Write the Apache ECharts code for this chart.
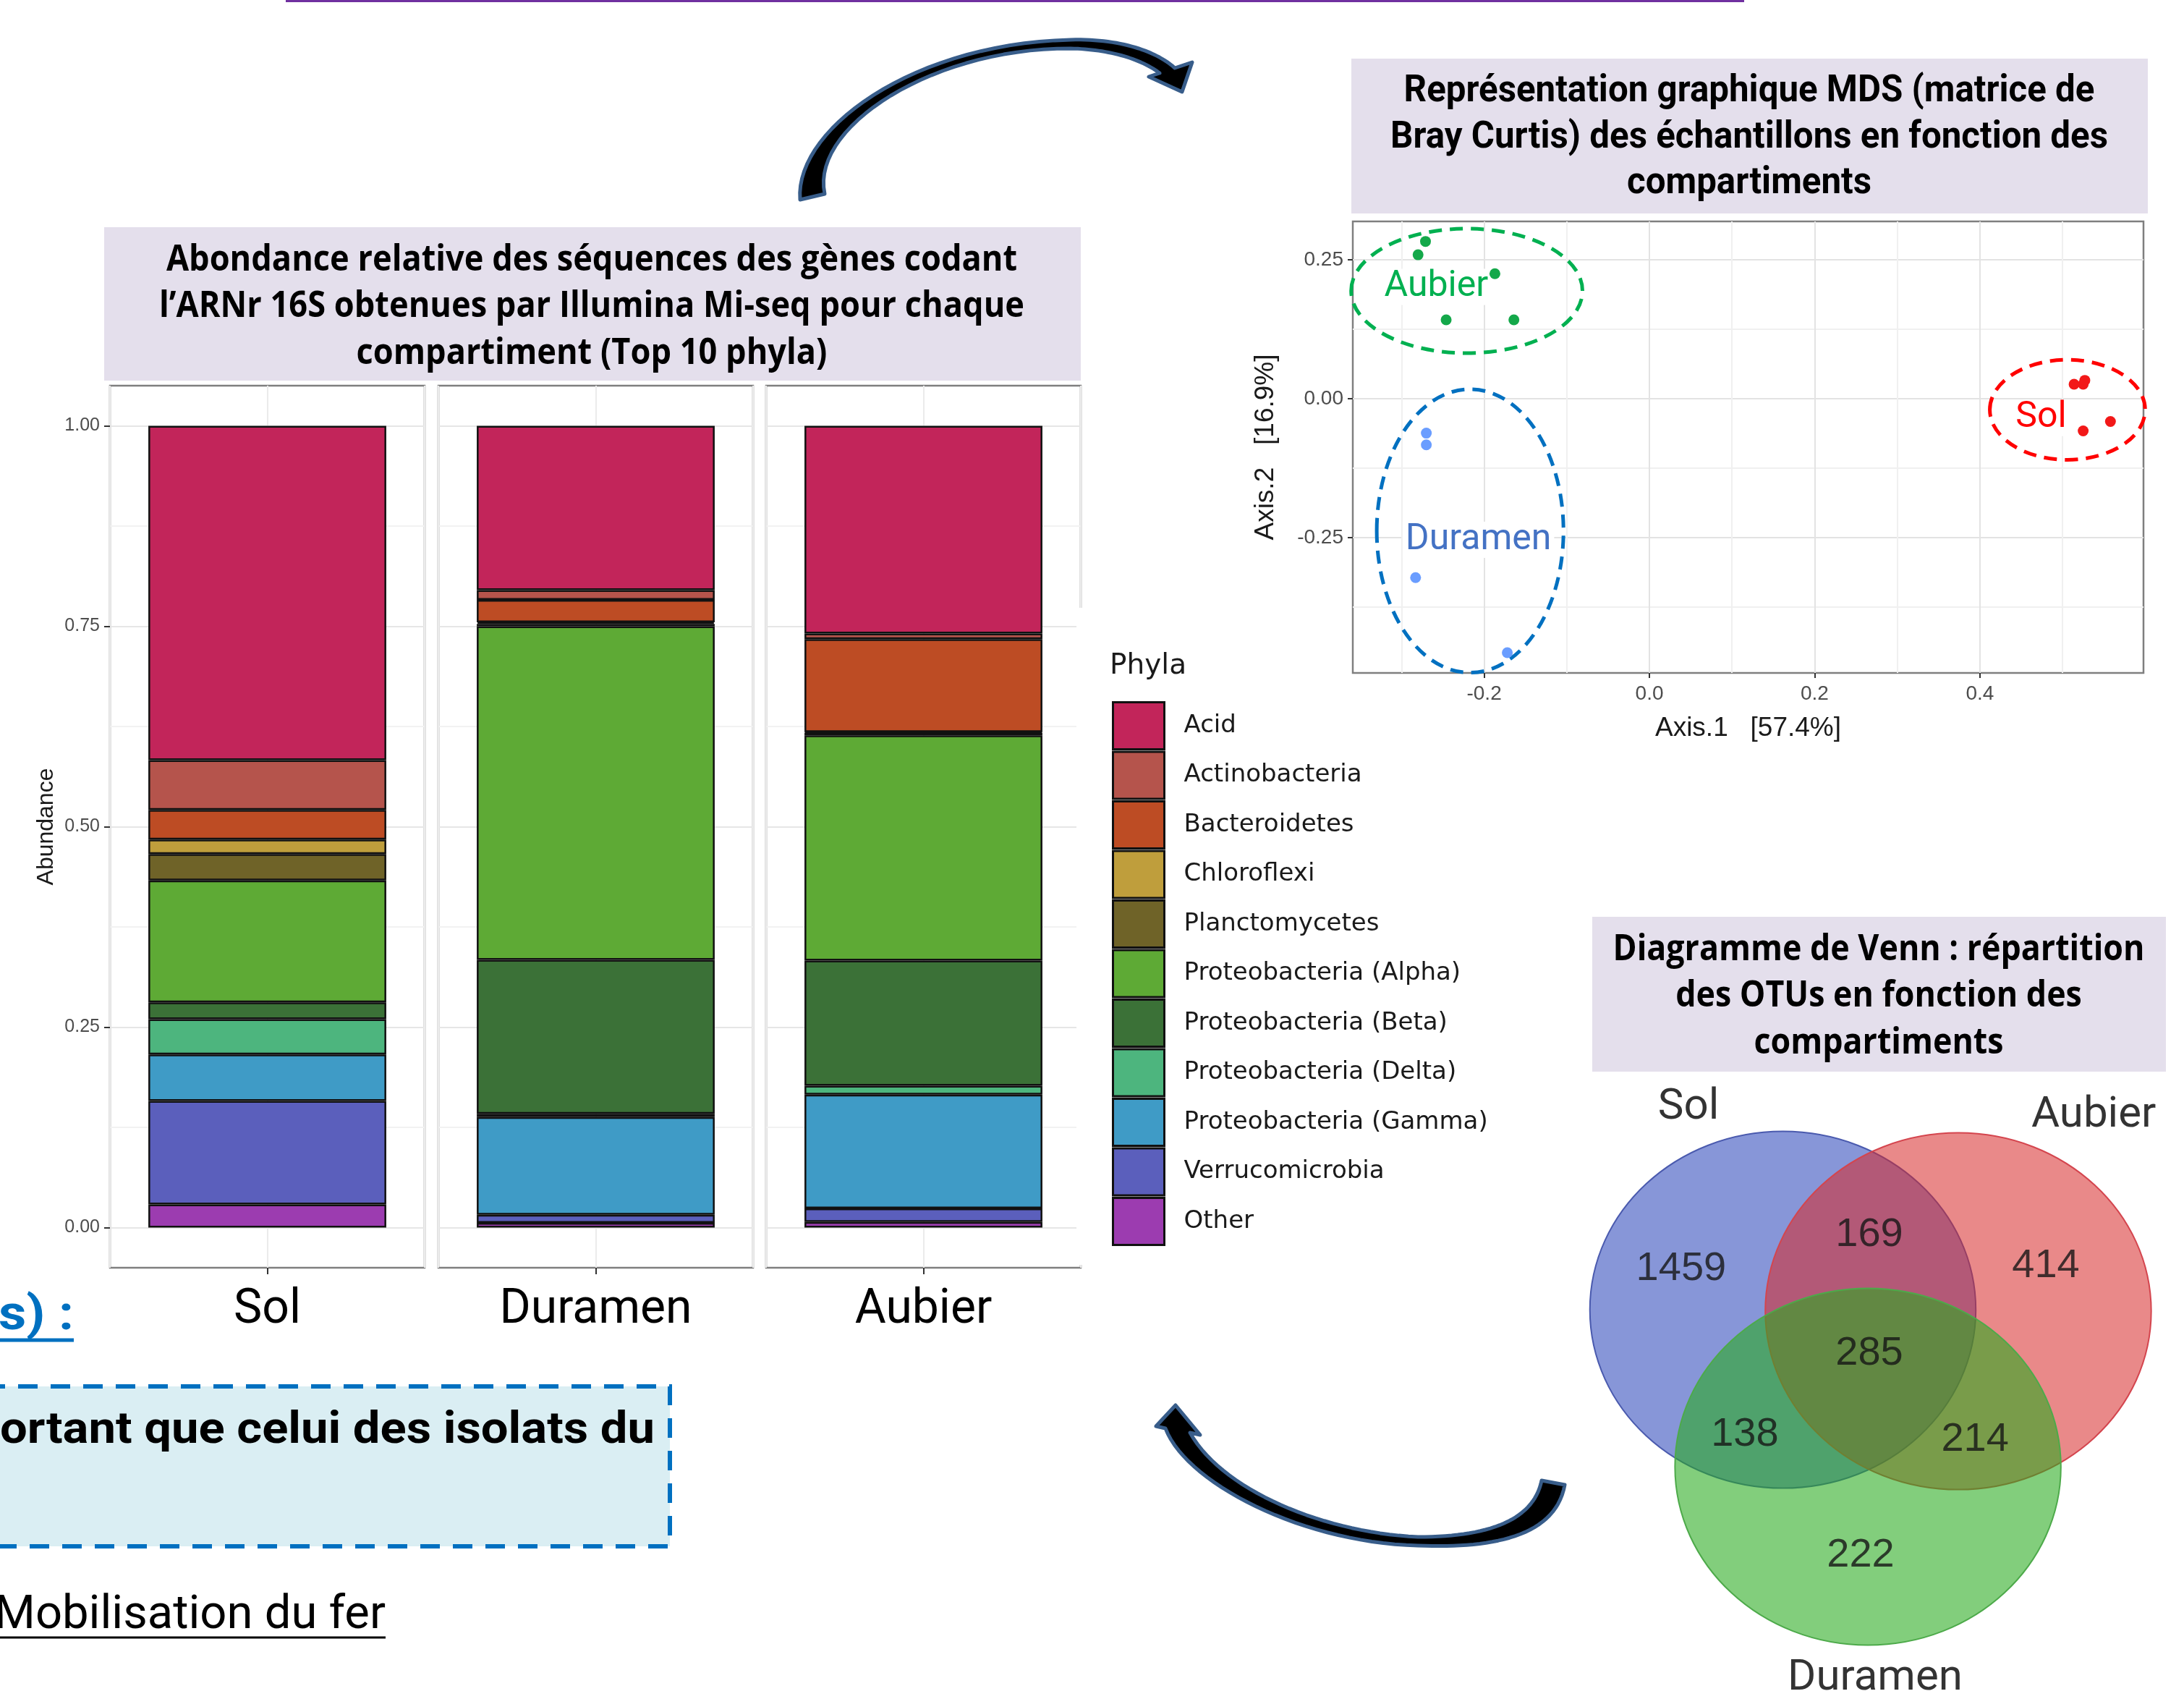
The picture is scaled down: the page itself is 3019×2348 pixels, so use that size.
<!DOCTYPE html>
<html>
<head>
<meta charset="utf-8">
<title>Phyla, MDS et Venn</title>
<script src="https://cdn.jsdelivr.net/npm/echarts@6/dist/echarts.min.js"></script>
<style>
html, body { margin: 0; padding: 0; background: #fff; }
#main { width: 3019px; height: 2348px; }
</style>
</head>
<body>
<div id="main"></div>
<script>
// stacked bars - relative abundance (top 10 phyla)
var compartments = ['Sol', 'Duramen', 'Aubier'];
var phyla = ['Acid', 'Actinobacteria', 'Bacteroidetes', 'Chloroflexi', 'Planctomycetes',
  'Proteobacteria (Alpha)', 'Proteobacteria (Beta)', 'Proteobacteria (Delta)',
  'Proteobacteria (Gamma)', 'Verrucomicrobia', 'Other'];
var solAbund     = [0.417, 0.062, 0.037, 0.018, 0.033, 0.152, 0.021, 0.044, 0.058, 0.129, 0.029];
var duramenAbund = [0.205, 0.012, 0.028, 0.002, 0.003, 0.416, 0.192, 0.004, 0.122, 0.010, 0.006];
var aubierAbund  = [0.259, 0.007, 0.116, 0.001, 0.003, 0.281, 0.156, 0.011, 0.142, 0.017, 0.007];
var abundTicks = [0, 0.25, 0.5, 0.75, 1];
var abundGrid = [0, 0.125, 0.25, 0.375, 0.5, 0.625, 0.75, 0.875, 1];

// MDS (Bray Curtis)
var mdsGroups = ['Aubier', 'Duramen', 'Sol'];
var aubierPts  = [[-0.271, 0.283], [-0.280, 0.259], [-0.187, 0.225], [-0.246, 0.142], [-0.164, 0.142]];
var duramenPts = [[-0.270, -0.062], [-0.270, -0.083], [-0.283, -0.322], [-0.172, -0.457]];
var solPts     = [[0.514, 0.026], [0.525, 0.026], [0.527, 0.033], [0.525, -0.058], [0.558, -0.041]];
var axis1Ticks = [-0.2, 0, 0.2, 0.4];
var axis1Grid = [-0.3, -0.2, -0.1, 0, 0.1, 0.2, 0.3, 0.4, 0.5];
var axis2Ticks = [-0.25, 0, 0.25];
var axis2Grid = [-0.375, -0.25, -0.125, 0, 0.125, 0.25];

// Venn - OTUs
var vennSets = ['Sol', 'Aubier', 'Duramen'];
var vennRegions = ['Sol', 'Aubier', 'Duramen', 'Sol ∩ Aubier', 'Sol ∩ Duramen', 'Aubier ∩ Duramen', 'Sol ∩ Aubier ∩ Duramen'];
var vennCounts = [1459, 414, 222, 169, 138, 214, 285];

// ---------- layout / styles ----------
var phylaColors = ['#C2255A', '#B5544C', '#BD4C24', '#BF9E3C', '#6F6328', '#5EAA35',
  '#3B7137', '#4DB57E', '#3F9BC6', '#5B5FBC', '#9C3CB0'];
var panelLeft = [152, 606, 1059], panelTop = 533, panelW = 435, panelH = 1219;
var mdsPointColors = ['#14A84A', '#6A9DFF', '#F21818'];
var mdsRingColors = ['#00B050', '#0070C0', '#FF0000'];
var mdsLabelColors = ['#00B050', '#4472C4', '#FF0000'];
// ring centre x,y, radius x,y, label x,y (axis units)
var mdsRings = [
  [-0.221, 0.194, 0.140, 0.112, -0.258, 0.201],
  [-0.217, -0.238, 0.113, 0.255, -0.207, -0.254],
  [0.506, -0.020, 0.094, 0.090, 0.474, -0.035]
];
// venn space: one unit = one circle radius
var vennCentres = [[1.179, 1.258], [2.088, 1.266], [1.620, 2.138]];
var vennCountPos = [[0.652, 1.030], [2.542, 1.014], [1.582, 2.633], [1.627, 0.836], [0.982, 1.959], [2.175, 1.984], [1.627, 1.505]];
var vennNamePos = [[0.690, 0.125], [2.79, 0.17], [1.657, 3.327]];
var vennFill = ['rgba(55,80,190,0.6)', 'rgba(215,40,40,0.55)', 'rgba(40,170,30,0.58)'];
var vennStroke = ['#4A5AAE', '#D4454E', '#4DAA4A'];

var measureCtx = document.createElement('canvas').getContext('2d');
function textWidth(t, font) { measureCtx.font = font; return measureCtx.measureText(t).width; }
function fitScale(lines, font, width) {
  var m = 0;
  lines.forEach(function (l) { m = Math.max(m, textWidth(l, font)); });
  return width / m;
}
function titleBlock(lines, cx, ys, font, width) {
  var s = fitScale(lines, font, width);
  return lines.map(function (l, i) {
    return { type: 'text', x: cx, y: ys[i], scaleX: s, z: 10,
      style: { text: l, font: font, fill: '#000', textAlign: 'center', textVerticalAlign: 'middle' } };
  });
}
function bez(p0, p1, p2, p3, n) {
  var pts = [];
  for (var i = 0; i <= n; i++) {
    var t = i / n, u = 1 - t;
    pts.push([u*u*u*p0[0] + 3*u*u*t*p1[0] + 3*u*t*t*p2[0] + t*t*t*p3[0],
              u*u*u*p0[1] + 3*u*u*t*p1[1] + 3*u*t*t*p2[1] + t*t*t*p3[1]]);
  }
  return pts;
}
function arrow(segs) {
  var pts = [];
  segs.forEach(function (s) { pts = pts.concat(s.length === 4 ? bez(s[0], s[1], s[2], s[3], 30) : [s]); });
  return { type: 'polygon', z: 20, shape: { points: pts },
    style: { fill: '#000', stroke: '#385D8A', lineWidth: 5, lineJoin: 'round' } };
}

var chart = echarts.init(document.getElementById('main'));

var grids = [], xAxes = [], yAxes = [], series = [];
var abund = [solAbund, duramenAbund, aubierAbund];

compartments.forEach(function (comp, c) {
  grids.push({ left: panelLeft[c], top: panelTop, width: panelW, height: panelH,
    show: true, borderColor: '#7f7f7f', borderWidth: 2.5 });
  xAxes.push({ type: 'category', gridIndex: c, data: [comp], position: 'bottom',
    axisLine: { show: false, onZero: false },
    axisTick: { show: true, alignWithLabel: true, length: 9, lineStyle: { color: '#333', width: 2 } },
    axisLabel: { fontFamily: 'Roboto', fontSize: 66, color: '#000', margin: 26 },
    splitLine: { show: false } });
  yAxes.push({ type: 'value', gridIndex: c, min: -0.05, max: 1.05, position: 'left',
    axisLine: { show: false, onZero: false }, axisLabel: { show: false },
    axisTick: { show: false, customValues: abundGrid },
    splitLine: { show: true, lineStyle: { color: ['#e6e6e6', '#f2f2f2'], width: 2 } } });
});
compartments.forEach(function (comp, c) {
  // vertical grid line at the bar centre
  xAxes.push({ type: 'value', gridIndex: c, min: 0, max: 2, interval: 1, position: 'top',
    axisLine: { show: false, onZero: false }, axisTick: { show: false }, axisLabel: { show: false },
    splitLine: { show: true, lineStyle: { color: '#ebebeb', width: 2 } } });
});
yAxes.push({ type: 'value', gridIndex: 0, min: -0.05, max: 1.05, position: 'left',
  name: 'Abundance', nameLocation: 'middle', nameGap: 72,
  nameTextStyle: { fontFamily: 'Liberation Sans', fontSize: 32, color: '#1a1a1a' },
  axisLine: { show: false, onZero: false }, splitLine: { show: false },
  axisTick: { show: true, length: 8, customValues: abundTicks, lineStyle: { color: '#333', width: 2 } },
  axisLabel: { customValues: abundTicks, formatter: function (v) { return v.toFixed(2); },
    fontFamily: 'Liberation Sans', fontSize: 25, color: '#4d4d4d', margin: 14 } });

compartments.forEach(function (comp, c) {
  for (var p = phyla.length - 1; p >= 0; p--) {
    series.push({ type: 'bar', name: phyla[p], xAxisIndex: c, yAxisIndex: c, stack: comp,
      barWidth: '75.6%', data: [abund[c][p]],
      itemStyle: { color: phylaColors[p], borderColor: '#111', borderWidth: 2.5 },
      emphasis: { disabled: true } });
  }
});

// MDS grid = 3
grids.push({ left: 1870, top: 306, width: 1093, height: 624, show: true, borderColor: '#7f7f7f', borderWidth: 2.5 });
xAxes.push({ type: 'value', gridIndex: 3, min: -0.359, max: 0.598, position: 'bottom',
  axisLine: { show: false, onZero: false }, axisLabel: { show: false },
  axisTick: { show: false, customValues: axis1Grid },
  splitLine: { show: true, lineStyle: { color: ['#f0f0f0', '#e3e3e3'], width: 2 } } });
xAxes.push({ type: 'value', gridIndex: 3, min: -0.359, max: 0.598, position: 'bottom',
  name: 'Axis.1   [57.4%]', nameLocation: 'middle', nameGap: 58,
  nameTextStyle: { fontFamily: 'Liberation Sans', fontSize: 37, color: '#1a1a1a' },
  axisLine: { show: false, onZero: false }, splitLine: { show: false },
  axisTick: { show: true, length: 7, customValues: axis1Ticks, lineStyle: { color: '#333', width: 2 } },
  axisLabel: { customValues: axis1Ticks, formatter: function (v) { return v.toFixed(1); },
    fontFamily: 'Liberation Sans', fontSize: 28, color: '#4d4d4d', margin: 15 } });
yAxes.push({ type: 'value', gridIndex: 3, min: -0.4935, max: 0.319, position: 'left',
  axisLine: { show: false, onZero: false }, axisLabel: { show: false },
  axisTick: { show: false, customValues: axis2Grid },
  splitLine: { show: true, lineStyle: { color: ['#f0f0f0', '#e3e3e3'], width: 2 } } });
yAxes.push({ type: 'value', gridIndex: 3, min: -0.4935, max: 0.319, position: 'left',
  name: 'Axis.2   [16.9%]', nameLocation: 'middle', nameGap: 102,
  nameTextStyle: { fontFamily: 'Liberation Sans', fontSize: 37, color: '#1a1a1a' },
  axisLine: { show: false, onZero: false }, splitLine: { show: false },
  axisTick: { show: true, length: 7, customValues: axis2Ticks, lineStyle: { color: '#333', width: 2 } },
  axisLabel: { customValues: axis2Ticks, formatter: function (v) { return v.toFixed(2); },
    fontFamily: 'Liberation Sans', fontSize: 28, color: '#4d4d4d', margin: 13 } });

series.push({ type: 'custom', xAxisIndex: 6, yAxisIndex: 4, z: 4, clip: false, data: mdsRings,
  renderItem: function (params, api) {
    var i = params.dataIndex;
    var c = api.coord([api.value(0), api.value(1)]);
    var r = api.size([api.value(2), api.value(3)]);
    var l = api.coord([api.value(4), api.value(5)]);
    return { type: 'group', children: [
      { type: 'ellipse', shape: { cx: c[0], cy: c[1], rx: r[0], ry: r[1] },
        style: { fill: 'none', stroke: mdsRingColors[i], lineWidth: 5, lineDash: [18, 11] } },
      { type: 'text', x: l[0], y: l[1],
        style: { text: mdsGroups[i], font: '50px Roboto', fill: mdsLabelColors[i],
          textAlign: 'center', textVerticalAlign: 'middle', backgroundColor: '#fff', padding: [0, 4] } }
    ] };
  } });
[aubierPts, duramenPts, solPts].forEach(function (pts, g) {
  series.push({ type: 'scatter', name: mdsGroups[g], xAxisIndex: 6, yAxisIndex: 4, z: 5,
    data: pts, symbolSize: 15, itemStyle: { color: mdsPointColors[g], opacity: 1 },
    emphasis: { disabled: true } });
});

// Venn grid = 4
grids.push({ left: 2150, top: 1500, width: 869, height: 848, show: false });
xAxes.push({ type: 'value', gridIndex: 4, min: 0, max: 3.258, show: false });
yAxes.push({ type: 'value', gridIndex: 4, min: 0, max: 3.44, inverse: true, show: false });
series.push({ type: 'custom', xAxisIndex: 8, yAxisIndex: 6, clip: false,
  data: vennSets.map(function (s, i) { return { name: s, value: vennCentres[i] }; }),
  renderItem: function (params, api) {
    var c = api.coord([api.value(0), api.value(1)]);
    var r = api.size([1, 1]);
    return { type: 'ellipse', shape: { cx: c[0], cy: c[1], rx: r[0], ry: r[1] },
      style: { fill: vennFill[params.dataIndex], stroke: vennStroke[params.dataIndex], lineWidth: 2 } };
  } });
series.push({ type: 'scatter', xAxisIndex: 8, yAxisIndex: 6, z: 5, symbolSize: 1, clip: false,
  itemStyle: { color: 'transparent' }, emphasis: { disabled: true },
  data: vennCounts.map(function (n, i) { return { name: vennRegions[i], value: [vennCountPos[i][0], vennCountPos[i][1], n] }; }),
  label: { show: true, position: 'inside', formatter: function (p) { return p.value[2]; },
    fontFamily: 'Liberation Sans', fontSize: 56, color: '#151515' } });
series.push({ type: 'scatter', xAxisIndex: 8, yAxisIndex: 6, z: 5, symbolSize: 1, clip: false,
  itemStyle: { color: 'transparent' }, emphasis: { disabled: true },
  data: vennSets.map(function (s, i) { return { name: s, value: vennNamePos[i] }; }),
  label: { show: true, position: 'inside', formatter: function (p) { return p.name; },
    fontFamily: 'Roboto', fontSize: 60, color: '#000' } });

// ---------- decorations ----------
var graphics = [
  { type: 'line', shape: { x1: 395, y1: 1, x2: 2411, y2: 1 }, style: { stroke: '#7030A0', lineWidth: 4 } },
  { type: 'rect', shape: { x: 144, y: 314, width: 1350, height: 212 }, style: { fill: '#E4DFEC' } },
  { type: 'rect', shape: { x: 1868, y: 81, width: 1101, height: 214 }, style: { fill: '#E4DFEC' } },
  { type: 'rect', shape: { x: 2201, y: 1267, width: 793, height: 214 }, style: { fill: '#E4DFEC' } },
  // right border of the Aubier panel is hidden under the legend picture
  { type: 'rect', z: 100, shape: { x: 1488, y: 840, width: 12, height: 908 }, style: { fill: '#fff' } },
  { type: 'text', x: 1534, y: 921, style: { text: 'Phyla', font: '39px "DejaVu Sans"', fill: '#1a1a1a', textVerticalAlign: 'middle' } },
  arrow([
    [[1106, 276], [1098, 180], [1260, 60], [1480, 55]],
    [[1480, 55], [1550, 53], [1600, 72], [1624, 94]],
    [1648, 86], [1634, 127], [1588, 106],
    [[1603, 101], [1575, 80], [1530, 68], [1480, 67]],
    [[1480, 67], [1290, 66], [1120, 175], [1140, 268]]
  ]),
  arrow([
    [[2163, 2052], [2150, 2125], [2060, 2140], [1960, 2136]],
    [[1960, 2136], [1800, 2132], [1640, 2050], [1611, 1974]],
    [1598, 1971], [1625, 1942], [1659, 1983],
    [[1645, 1980], [1690, 2060], [1830, 2118], [1960, 2124]],
    [[1960, 2124], [2060, 2124], [2120, 2100], [2131, 2046]]
  ]),
  // bottom left remnants of the slide
  { type: 'rect', shape: { x: -20, y: 1916, width: 946, height: 221 },
    style: { fill: '#DAEEF3', stroke: '#0070C0', lineWidth: 6, lineDash: [27, 18] } },
  { type: 'text', x: 905, y: 1978, scaleX: fitScale(['ortant que celui des isolats du'], 'bold 62px Roboto', 905),
    style: { text: 'important que celui des isolats du', font: 'bold 62px Roboto', fill: '#000', textAlign: 'right', textVerticalAlign: 'middle' } },
  { type: 'text', x: 102, y: 1820, scaleX: fitScale(['s) :'], 'bold 66px Roboto', 104),
    style: { text: 's) :', font: 'bold 66px Roboto', fill: '#0070C0', textAlign: 'right', textVerticalAlign: 'middle' } },
  { type: 'line', shape: { x1: 0, y1: 1852, x2: 102, y2: 1852 }, style: { stroke: '#0070C0', lineWidth: 5 } },
  { type: 'text', x: -8, y: 2234, scaleX: fitScale(['Mobilisation du fer'], '64px Roboto', 541),
    style: { text: 'Mobilisation du fer', font: '64px Roboto', fill: '#000', textVerticalAlign: 'middle' } },
  { type: 'line', shape: { x1: 0, y1: 2263, x2: 533, y2: 2263 }, style: { stroke: '#000', lineWidth: 3 } }
];
graphics = graphics.concat(
  titleBlock(['Abondance relative des séquences des gènes codant',
    'l’ARNr 16S obtenues par Illumina Mi-seq pour chaque',
    'compartiment (Top 10 phyla)'], 818, [360, 424, 489], 'bold 50px "Open Sans"', 1196),
  titleBlock(['Représentation graphique MDS (matrice de',
    'Bray Curtis) des échantillons en fonction des',
    'compartiments'], 2418, [127, 191, 254], 'bold 52px Roboto', 992),
  titleBlock(['Diagramme de Venn : répartition',
    'des OTUs en fonction des',
    'compartiments'], 2597, [1313, 1377, 1442], 'bold 50px "Open Sans"', 735)
);

chart.setOption({
  animation: false,
  backgroundColor: '#fff',
  grid: grids,
  xAxis: xAxes,
  yAxis: yAxes,
  legend: {
    data: phyla, orient: 'vertical', left: 1532, top: 964, selectedMode: false,
    icon: 'rect', itemWidth: 71, itemHeight: 65, itemGap: 0.5,
    itemStyle: { borderColor: '#111', borderWidth: 3 },
    textStyle: { fontFamily: 'DejaVu Sans', fontSize: 34, color: '#1a1a1a', padding: [0, 0, 0, 22] }
  },
  graphic: { elements: graphics },
  series: series
});
</script>
</body>
</html>
